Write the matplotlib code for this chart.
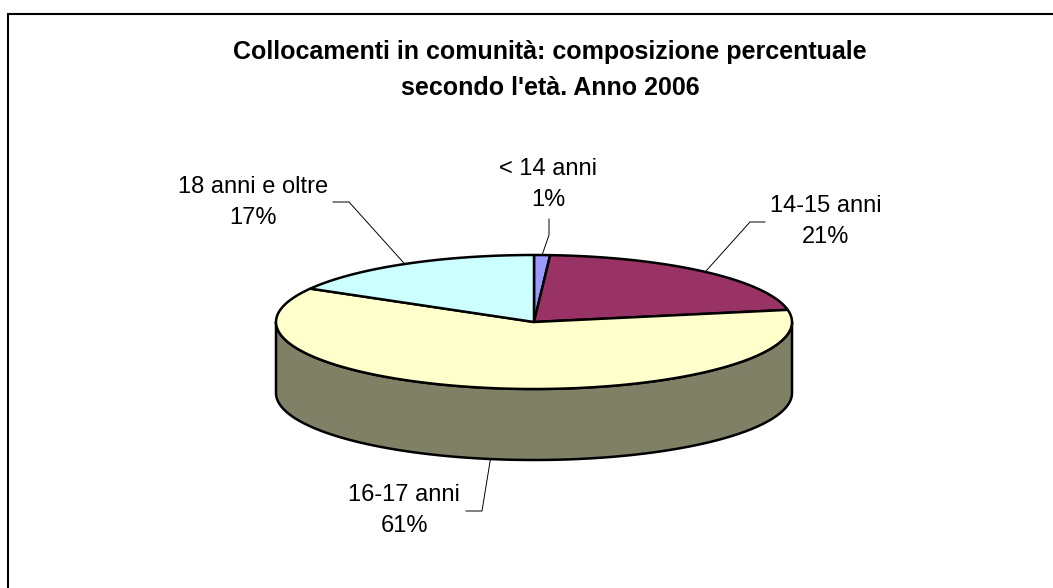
import numpy as np
import matplotlib.pyplot as plt
from matplotlib.patches import Polygon

plt.rcParams['font.family'] = ['Liberation Sans', 'DejaVu Sans']

# data
labels = ['< 14 anni', '14-15 anni', '16-17 anni', '18 anni e oltre']
values = [1.0, 21.1, 61.2, 16.7]
colors = ['#9999FF', '#993366', '#FFFFCC', '#CCFFFF']
title_lines = ["Collocamenti in comunità: composizione percentuale",
               "secondo l'età. Anno 2006"]

# layout (pixel coords)
cx, cy, a, b, depth = 534, 322, 258, 67, 71
# label centre, leader elbow points, which face the leader hits
label_pos = [(548, 169), (826, 206), (404, 495), (253, 187)]
leader_pts = [[(549, 219), (549, 235)], [(765, 222), (750, 222)],
              [(466, 511), (482, 511)], [(333, 202), (349, 202)]]
leader_bottom = [False, False, True, False]

fig = plt.figure(figsize=(10.53, 5.88), dpi=100)
ax = fig.add_axes([0, 0, 1, 1])
ax.set_xlim(0, 1053)
ax.set_ylim(588, 0)
ax.axis('off')


def ell(t, dy=0):
    t = np.radians(t)
    return cx + a * np.cos(t), cy + dy - b * np.sin(t)


def darker(c):
    r, g, bb = [int(c[i:i + 2], 16) / 255 for i in (1, 3, 5)]
    return (r * 0.5, g * 0.5, bb * 0.5)


total = sum(values)
angles = [360 * v / total for v in values]
starts = 90 - np.concatenate([[0], np.cumsum(angles)[:-1]])
ends = starts - np.array(angles)

# side walls (front half only)
for s, e, c in zip(starts, ends, colors):
    for k in (-1, 0, 1):
        lo, hi = max(e, -180 + 360 * k), min(s, 360 * k)
        if hi <= lo:
            continue
        t = np.linspace(hi, lo, 200)
        xt, yt = ell(t)
        xb, yb = ell(t[::-1], depth)
        pts = np.column_stack([np.r_[xt, xb], np.r_[yt, yb]])
        ax.add_patch(Polygon(pts, closed=True, fc=darker(c), ec='black',
                             lw=1.8, joinstyle='round'))

# top faces
for s, e, c in zip(starts, ends, colors):
    t = np.linspace(s, e, 300)
    x, y = ell(t)
    pts = np.column_stack([np.r_[cx, x], np.r_[cy, y]])
    ax.add_patch(Polygon(pts, closed=True, fc=c, ec='black', lw=1.8,
                         joinstyle='round'))

# labels and leader lines
for lab, v, s, e, (lx, ly), lp, bot in zip(labels, values, starts, ends,
                                            label_pos, leader_pts, leader_bottom):
    mid = (s + e) / 2
    px, py = ell(mid, depth if bot else 0)
    xs = [p[0] for p in lp] + [px]
    ys = [p[1] for p in lp] + [py]
    ax.plot(xs, ys, color='black', lw=0.7)
    ax.text(lx, ly, lab, ha='center', va='center', fontsize=17)
    ax.text(lx, ly + 31, f'{round(v)}%', ha='center', va='center', fontsize=17)

for i, line in enumerate(title_lines):
    ax.text(550, 52 + 36 * i, line, ha='center', va='center', fontsize=18,
            fontweight='bold')

# chart frame (left and top edges visible)
ax.plot([8, 8, 1053], [588, 14, 14], color='black', lw=1.5,
        solid_joinstyle='miter')

fig.savefig('out.png', dpi=100)
